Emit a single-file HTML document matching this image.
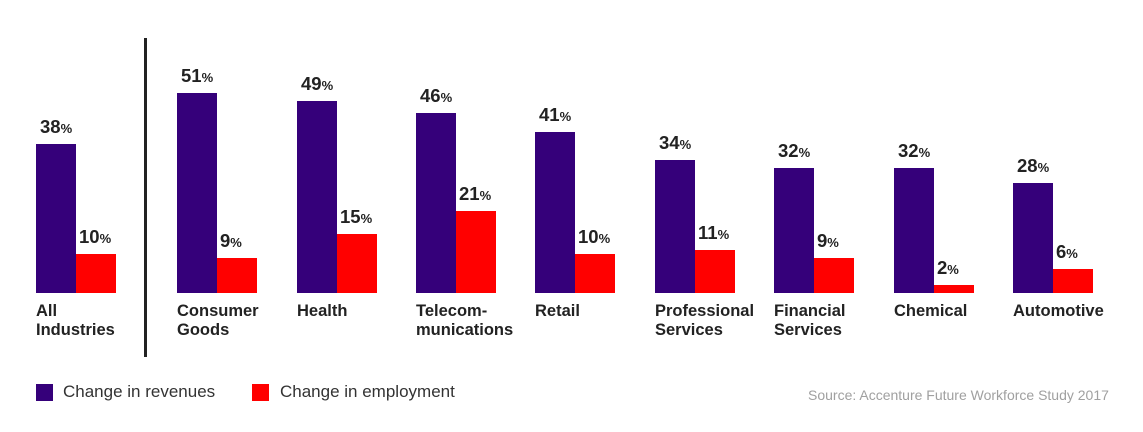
<!DOCTYPE html>
<html><head><meta charset="utf-8"><style>
body{margin:0;width:1143px;height:432px;background:#fff;position:relative;overflow:hidden;font-family:"Liberation Sans",Arial,sans-serif}
.b{position:absolute}
.p{background:#35007a}
.r{background:#ff0000}
.v{position:absolute;font-weight:bold;font-size:18.5px;color:#222;width:60px;text-align:left;line-height:18px}
.v small{font-size:13px}
.c{position:absolute;top:302px;font-weight:bold;font-size:16.5px;color:#222;line-height:19px}
</style></head><body>
<div class="b" style="left:144px;top:38px;width:3px;height:319px;background:#222"></div>
<div id="chart"></div>
<script>
var d=[["All<br>Industries",36,38,10],["Consumer<br>Goods",177,51,9],["Health",297,49,15],["Telecom-<br>munications",416,46,21],["Retail",535,41,10],["Professional<br>Services",655,34,11],["Financial<br>Services",774,32,9],["Chemical",894,32,2],["Automotive",1013,28,6]];
var h="",base=293,k=3.92;
d.forEach(function(e){var x=e[1],a=Math.round(e[2]*k),b=Math.round(e[3]*k);
h+='<div class="b p" style="left:'+x+'px;top:'+(base-a)+'px;width:40px;height:'+a+'px"></div>';
h+='<div class="b r" style="left:'+(x+40)+'px;top:'+(base-b)+'px;width:40px;height:'+b+'px"></div>';
h+='<div class="v" style="left:'+(x+4)+'px;top:'+(base-a-26)+'px">'+e[2]+'<small>%</small></div>';
h+='<div class="v" style="left:'+(x+43)+'px;top:'+(base-b-26)+'px">'+e[3]+'<small>%</small></div>';
h+='<div class="c" style="left:'+x+'px">'+e[0]+'</div>';});
document.getElementById("chart").innerHTML=h;
</script>
<div class="b p" style="left:36px;top:384px;width:17px;height:17px"></div>
<div class="b" style="left:63px;top:382px;font-size:17px;color:#333">Change in revenues</div>
<div class="b r" style="left:252px;top:384px;width:17px;height:17px"></div>
<div class="b" style="left:280px;top:382px;font-size:17px;color:#333">Change in employment</div>
<div class="b" style="left:808px;top:387px;font-size:14px;color:#a0a0a0">Source: Accenture Future Workforce Study 2017</div>
</body></html>
